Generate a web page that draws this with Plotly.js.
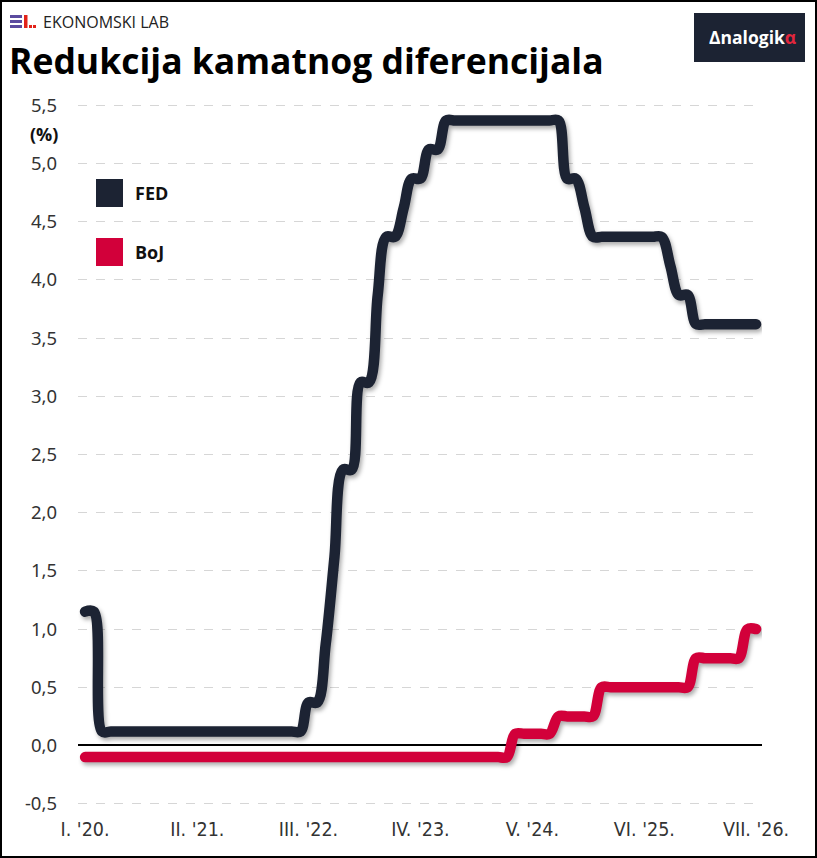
<!DOCTYPE html>
<html><head><meta charset="utf-8">
<script src="https://cdn.plot.ly/plotly-3.0.1.min.js"></script>
<style>
html,body{margin:0;padding:0;background:#fff;}
#wrap{position:relative;width:817px;height:858px;overflow:hidden;}
#chart{width:817px;height:858px;}
#frame{position:absolute;left:0;top:0;width:817px;height:858px;box-sizing:border-box;border:2px solid #000;pointer-events:none;}
.scatterlayer .js-line{stroke-linecap:round;stroke-linejoin:round;filter:drop-shadow(2px 3px 2px rgba(0,0,0,0.32));}
</style></head><body>
<div id="wrap"><div id="chart"></div><div id="frame"></div></div>
<script>
const months = [
 '2020-01-01','2020-02-01','2020-03-01','2020-04-01','2020-05-01','2020-06-01','2020-07-01','2020-08-01','2020-09-01','2020-10-01','2020-11-01','2020-12-01',
 '2021-01-01','2021-02-01','2021-03-01','2021-04-01','2021-05-01','2021-06-01','2021-07-01','2021-08-01','2021-09-01','2021-10-01','2021-11-01','2021-12-01',
 '2022-01-01','2022-02-01','2022-03-01','2022-04-01','2022-05-01','2022-06-01','2022-07-01','2022-08-01','2022-09-01','2022-10-01','2022-11-01','2022-12-01',
 '2023-01-01','2023-02-01','2023-03-01','2023-04-01','2023-05-01','2023-06-01','2023-07-01','2023-08-01','2023-09-01','2023-10-01','2023-11-01','2023-12-01',
 '2024-01-01','2024-02-01','2024-03-01','2024-04-01','2024-05-01','2024-06-01','2024-07-01','2024-08-01','2024-09-01','2024-10-01','2024-11-01','2024-12-01',
 '2025-01-01','2025-02-01','2025-03-01','2025-04-01','2025-05-01','2025-06-01','2025-07-01','2025-08-01','2025-09-01','2025-10-01','2025-11-01','2025-12-01',
 '2026-01-01','2026-02-01','2026-03-01','2026-04-01','2026-05-01','2026-06-01','2026-07-01'
];
const fed = [
 1.15,1.15,0.12,0.12,0.12,0.12,0.12,0.12,0.12,0.12,0.12,0.12,
 0.12,0.12,0.12,0.12,0.12,0.12,0.12,0.12,0.12,0.12,0.12,0.12,
 0.12,0.12,0.37,0.37,0.87,1.62,2.37,2.37,3.12,3.12,3.87,4.37,
 4.37,4.62,4.87,4.87,5.12,5.12,5.37,5.37,5.37,5.37,5.37,5.37,
 5.37,5.37,5.37,5.37,5.37,5.37,5.37,5.37,4.87,4.87,4.62,4.37,
 4.37,4.37,4.37,4.37,4.37,4.37,4.37,4.37,4.12,3.87,3.87,3.62,
 3.62,3.62,3.62,3.62,3.62,3.62,3.62
];
const boj = [
 -0.1,-0.1,-0.1,-0.1,-0.1,-0.1,-0.1,-0.1,-0.1,-0.1,-0.1,-0.1,
 -0.1,-0.1,-0.1,-0.1,-0.1,-0.1,-0.1,-0.1,-0.1,-0.1,-0.1,-0.1,
 -0.1,-0.1,-0.1,-0.1,-0.1,-0.1,-0.1,-0.1,-0.1,-0.1,-0.1,-0.1,
 -0.1,-0.1,-0.1,-0.1,-0.1,-0.1,-0.1,-0.1,-0.1,-0.1,-0.1,-0.1,
 -0.1,-0.1,0.1,0.1,0.1,0.1,0.1,0.25,0.25,0.25,0.25,0.25,
 0.5,0.5,0.5,0.5,0.5,0.5,0.5,0.5,0.5,0.5,0.5,0.75,
 0.75,0.75,0.75,0.75,0.75,1.0,1.0
];
const xTickVals = ['2020-01-01','2021-02-01','2022-03-01','2023-04-01','2024-05-01','2025-06-01','2026-07-01'];
const xTickText = ["I. '20.","II. '21.","III. '22.","IV. '23.","V. '24.","VI. '25.","VII. '26."];
const yTickVals = [-0.5,0,0.5,1,1.5,2,2.5,3,3.5,4,4.5,5,5.5];
const yTickText = ['-0,5','0,0','0,5','1,0','1,5','2,0','2,5','3,0','3,5','4,0','4,5','5,0','5,5'];
const seriesNames = ['FED','BoJ'];
const colFed = '#1c2333', colBoj = '#d2003a';

const traces = [
 {x: months, y: boj, name: seriesNames[1], type:'scatter', mode:'lines',
  line:{color: colBoj, width: 10.5, shape:'spline', smoothing:1}, hoverinfo:'skip'},
 {x: months, y: fed, name: seriesNames[0], type:'scatter', mode:'lines',
  line:{color: colFed, width: 10.5, shape:'spline', smoothing:1}, hoverinfo:'skip'}
];

const P = (px)=> (px-78)/684;
const Q = (py)=> (806-py)/703;
const rect = (x0,y0,x1,y1,c)=>({type:'rect',xref:'paper',yref:'paper',x0:P(x0),x1:P(x1),y0:Q(y1),y1:Q(y0),fillcolor:c,line:{width:0},layer:'above'});

const layout = {
 width: 817, height: 858,
 margin: {l:78, r:55, t:103, b:52},
 paper_bgcolor:'#fff', plot_bgcolor:'#fff',
 showlegend:false,
 font:{family:'"Noto Sans", "Open Sans", sans-serif', color:'#333', size:18},
 title:{text:'Redukcija kamatnog diferencijala', xref:'container', yref:'container',
   x: 9/817, xanchor:'left', y: 1-62/858, yanchor:'middle',
   font:{family:'"Open Sans", "Noto Sans", sans-serif', size:35.5, weight:700, color:'#000'}},
 xaxis:{type:'date', range:['2019-12-07','2026-07-22'], tickmode:'array', tickvals:xTickVals, ticktext:xTickText,
   showgrid:false, zeroline:false, showline:false, ticks:'', ticklabelstandoff:9,
   tickfont:{family:'"DejaVu Sans Condensed", "Liberation Sans Narrow", "Noto Sans", sans-serif', size:19.5, color:'#333'}},
 yaxis:{range:[-0.52,5.52], tickmode:'array', tickvals:yTickVals, ticktext:yTickText,
   showgrid:true, gridcolor:'#d6d6d6', griddash:'dash', gridwidth:1,
   zeroline:true, zerolinecolor:'#000', zerolinewidth:2, showline:false, ticks:'', ticklabelstandoff:20,
   tickfont:{family:'"Noto Sans", "Open Sans", sans-serif', size:18.5, color:'#333'}},
 shapes:[
   rect(96,179,123,207,colFed),
   rect(96,238,123,266,colBoj),
   rect(694,13,805,62,'#1c2333'),
   rect(10,15,22,18,'#5b4b9f'), rect(10,20,22,23,'#5b4b9f'), rect(10,25,22,28,'#5b4b9f'),
   rect(24,15,27.5,28,'#e2231a'), rect(29,25,32,28,'#e2231a'), rect(33,25,36,28,'#e2231a')
 ],
 annotations:[
   {xref:'paper',yref:'paper',x:P(44),y:Q(134),text:'<b>(%)</b>',showarrow:false,xanchor:'center',yanchor:'middle',
    font:{family:'"Open Sans", sans-serif',size:18,color:'#111'}},
   {xref:'paper',yref:'paper',x:P(133),y:Q(193),text:'<b>'+seriesNames[0]+'</b>',showarrow:false,xanchor:'left',yanchor:'middle',
    font:{family:'"Open Sans", sans-serif',size:18,color:'#111'}},
   {xref:'paper',yref:'paper',x:P(133),y:Q(252),text:'<b>'+seriesNames[1]+'</b>',showarrow:false,xanchor:'left',yanchor:'middle',
    font:{family:'"Open Sans", sans-serif',size:18,color:'#111'}},
   {xref:'paper',yref:'paper',x:P(41),y:Q(22),text:'EKONOMSKI LAB',showarrow:false,xanchor:'left',yanchor:'middle',
    font:{family:'"Open Sans", sans-serif',size:16,color:'#222'}},
   {xref:'paper',yref:'paper',x:P(752),y:Q(37),text:'<b>Δnalogik<span style="color:#e2263d">α</span></b>',showarrow:false,xanchor:'center',yanchor:'middle',
    font:{family:'"Open Sans", sans-serif',size:17.5,color:'#fff'}}
 ]
};
Plotly.newPlot('chart', traces, layout, {displayModeBar:false, staticPlot:true});
</script>
</body></html>
